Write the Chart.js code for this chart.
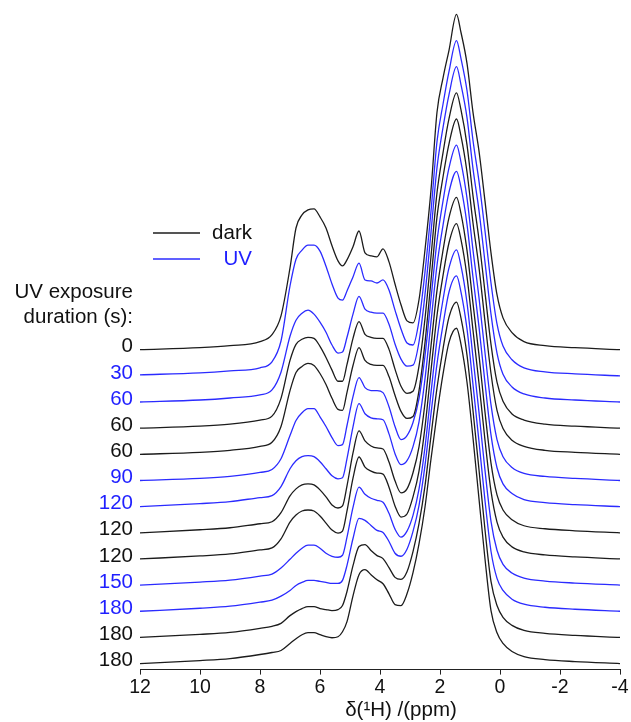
<!DOCTYPE html>
<html>
<head>
<meta charset="utf-8">
<title>1H MAS NMR - UV exposure series</title>
<script src="https://cdn.jsdelivr.net/npm/chart.js@4.4.1/dist/chart.umd.min.js"></script>
<style>
  html, body { margin: 0; padding: 0; background: #fff; }
  #wrap { width: 631px; height: 722px; }
</style>
</head>
<body>
<div id="wrap"><canvas id="nmrChart" width="631" height="722"></canvas></div>
<script>
// chemical shift grid (ppm) shared by all spectra
const ppm = [12, 10, 9, 8, 7.6, 7.3, 7.0, 6.8, 6.6, 6.4, 6.2, 6.0, 5.8, 5.6, 5.4, 5.25, 5.1, 4.9, 4.7, 4.5,
  4.3, 4.1, 3.9, 3.7, 3.5, 3.3, 3.1, 2.9, 2.7, 2.5, 2.3, 2.1, 1.9, 1.7, 1.45, 1.3, 1.1, 0.9, 0.7, 0.5,
  0.3, 0.1, -0.1, -0.4, -0.8, -1.5, -2.5, -4];

// exposure labels, top to bottom, and whether the sample was kept dark or under UV
const durations = ['0', '30', '60', '60', '60', '90', '120', '120', '120', '150', '180', '180', '180'];
const condition = ['dark', 'UV', 'UV', 'dark', 'dark', 'UV', 'UV', 'dark', 'dark', 'UV', 'UV', 'dark', 'dark'];

// intensities, normalised to the main peak (= 100), one array per spectrum
const spec01 = [0, 0.6, 1.2, 2.4, 4.5, 10.1, 24.4, 36.3, 40.2, 41.7, 42.0, 39.6, 36.3, 31.0, 26.5, 25.0, 26.8, 30.7, 35.4, 28.9,
  28.0, 27.7, 30.1, 26.2, 19.6, 13.4, 8.6, 8.0, 14.9, 29.8, 47.6, 70.8, 81.0, 89.3, 100, 94.6, 85.4, 70.8, 59.2, 44.3,
  28.9, 16.4, 9.5, 5.1, 2.4, 1.2, 0.6, 0];
const spec02 = [0.3, 0.9, 1.5, 2.4, 4.2, 10.4, 26.8, 34.8, 37.5, 39.0, 39.0, 37.2, 32.7, 27.4, 23.2, 22.6, 25.3, 29.5, 33.6, 28.6,
  28.3, 27.7, 28.6, 25.6, 19.6, 14.0, 9.8, 9.2, 16.4, 31.0, 49.1, 69.9, 81.0, 90.8, 100, 94.6, 85.1, 70.2, 58.0, 43.2,
  27.7, 15.5, 8.9, 4.8, 2.4, 1.2, 0.6, 0];
const spec03 = [0, 0.6, 1.2, 2.1, 3.6, 8.9, 19.6, 24.4, 26.5, 27.4, 26.2, 23.8, 20.8, 17.0, 14.6, 14.9, 19.3, 26.2, 31.5, 27.7,
  26.8, 26.5, 26.5, 23.2, 17.3, 12.8, 10.7, 11.0, 17.9, 32.1, 50.6, 69.9, 81.8, 91.7, 100, 94.6, 84.8, 69.6, 57.1, 41.7,
  26.2, 14.6, 8.3, 4.5, 2.4, 1.2, 0.6, 0];
const spec04 = [0, 0.6, 1.2, 2.4, 3.6, 8.9, 20.2, 25.0, 26.5, 27.1, 26.8, 24.4, 21.1, 17.3, 14.0, 14.0, 19.0, 26.8, 31.8, 28.0,
  27.1, 26.8, 26.8, 23.5, 17.6, 12.5, 10.4, 11.0, 18.5, 32.7, 51.2, 70.2, 82.1, 92.3, 100, 94.9, 84.5, 69.3, 56.2, 40.5,
  25.0, 13.7, 8.0, 4.2, 2.4, 1.2, 0.6, 0];
const spec05 = [0, 0.6, 1.2, 2.4, 3.6, 8.3, 19.0, 24.4, 26.2, 27.1, 26.5, 24.1, 20.8, 16.7, 13.4, 13.1, 18.5, 26.5, 31.8, 28.0,
  26.8, 26.5, 26.5, 23.2, 17.6, 12.8, 10.7, 11.3, 19.0, 33.3, 51.8, 70.8, 82.7, 92.6, 100, 94.9, 84.2, 69.0, 55.7, 39.6,
  24.1, 13.1, 7.7, 4.2, 2.4, 1.2, 0.6, 0];
const spec06 = [0, 0.6, 1.2, 2.4, 3.3, 6.5, 13.4, 17.9, 20.2, 21.4, 21.4, 19.0, 16.1, 12.8, 10.4, 10.7, 16.4, 25.0, 30.7, 27.7,
  26.8, 26.8, 26.2, 22.0, 16.1, 12.2, 13.4, 17.3, 24.4, 37.2, 54.2, 71.4, 83.3, 93.2, 100, 94.9, 84.2, 68.7, 54.5, 38.1,
  22.6, 12.2, 7.1, 3.9, 2.1, 1.2, 0.6, 0];
const spec07 = [0, 0.9, 1.5, 2.7, 3.3, 6.0, 11.3, 13.7, 14.9, 15.2, 14.9, 13.4, 11.3, 9.2, 8.3, 8.6, 14.3, 23.8, 30.7, 27.7,
  26.5, 26.2, 25.9, 21.7, 15.8, 12.5, 13.7, 17.9, 25.3, 38.1, 55.1, 72.0, 83.9, 93.8, 100, 95.2, 84.2, 68.4, 53.6, 36.9,
  21.4, 11.6, 6.8, 3.9, 2.1, 1.2, 0.6, 0];
const spec08 = [0, 0.9, 1.5, 2.7, 3.3, 6.0, 11.0, 13.1, 14.3, 14.6, 14.3, 12.8, 10.7, 8.3, 7.4, 8.0, 14.0, 23.8, 30.4, 27.4,
  25.9, 25.3, 25.0, 21.1, 15.5, 11.9, 13.1, 17.9, 25.6, 38.7, 55.7, 72.3, 84.2, 94.0, 100, 95.2, 84.2, 68.4, 53.0, 36.0,
  20.8, 11.3, 6.8, 3.9, 2.1, 1.2, 0.6, 0];
const spec09 = [0, 0.9, 1.5, 2.7, 3.3, 6.0, 11.0, 13.1, 14.3, 14.6, 14.3, 12.8, 10.7, 8.6, 7.7, 8.3, 14.3, 24.1, 30.4, 27.4,
  26.2, 25.6, 25.3, 21.4, 15.8, 12.5, 13.4, 18.5, 26.2, 39.3, 56.2, 72.6, 84.5, 94.3, 100, 95.2, 84.2, 68.2, 52.4, 35.4,
  20.2, 11.0, 6.5, 3.6, 2.1, 1.2, 0.6, 0];
const spec10 = [0, 0.9, 1.5, 2.7, 3.3, 5.1, 7.7, 9.5, 11.0, 11.9, 11.9, 11.0, 9.5, 8.6, 8.3, 8.9, 14.3, 23.2, 29.2, 27.1,
  25.9, 25.3, 24.7, 21.4, 16.7, 14.3, 16.1, 20.8, 28.6, 41.1, 57.4, 73.2, 85.1, 94.6, 100, 95.2, 84.2, 67.9, 51.5, 34.2,
  19.0, 10.4, 6.2, 3.6, 2.1, 1.2, 0.6, 0];
const spec11 = [0, 0.9, 1.5, 2.7, 3.3, 4.5, 6.2, 7.7, 8.6, 9.2, 9.2, 8.9, 8.6, 8.3, 8.3, 9.2, 13.7, 21.7, 27.7, 27.1,
  25.6, 24.1, 23.5, 20.8, 17.3, 16.4, 18.5, 23.8, 31.5, 43.5, 58.9, 73.8, 85.4, 95.2, 100, 95.2, 84.2, 67.6, 50.6, 33.0,
  17.9, 9.8, 6.2, 3.6, 2.1, 1.2, 0.6, 0];
const spec12 = [0, 0.9, 1.5, 2.7, 3.3, 4.2, 6.5, 7.7, 8.6, 9.2, 9.2, 8.6, 8.3, 8.0, 8.3, 9.5, 13.7, 21.4, 27.1, 27.7,
  25.9, 24.4, 23.5, 20.8, 17.9, 17.3, 19.6, 25.6, 33.9, 45.2, 60.1, 74.4, 86.0, 95.5, 100, 95.2, 84.2, 67.6, 50.0, 32.1,
  16.7, 9.5, 6.0, 3.6, 2.1, 1.2, 0.6, 0];
const spec13 = [0, 0.9, 1.5, 2.7, 3.3, 3.9, 6.0, 7.4, 8.6, 9.2, 9.2, 8.6, 8.0, 7.7, 8.0, 9.5, 12.5, 20.2, 26.5, 28.0,
  26.5, 25.0, 23.8, 20.8, 17.6, 17.3, 20.8, 27.1, 35.7, 46.7, 61.0, 74.4, 86.3, 95.8, 100, 95.2, 83.9, 67.3, 49.1, 31.2,
  15.8, 9.2, 6.0, 3.6, 2.1, 1.2, 0.6, 0];

const spectra = [spec01, spec02, spec03, spec04, spec05, spec06, spec07, spec08, spec09, spec10, spec11, spec12, spec13];

const xTicks = [12, 10, 8, 6, 4, 2, 0, -2, -4];

// stacking: each spectrum is lifted by this much above the one below it
const stackStep = 7.8;
const colors = { dark: '#1c1c1c', UV: '#2b2bff' };
const labelColors = { dark: '#111111', UV: '#1f1fff' };
const FONT = "'Liberation Sans', Arial, sans-serif";

const nSpec = spectra.length;
const offsetOf = i => (nSpec - 1 - i) * stackStep;

const datasets = spectra.map((vals, i) => ({
  label: durations[i] + ' s (' + condition[i] + ')',
  data: ppm.map((x, k) => ({ x: x, y: vals[k] + offsetOf(i) })),
  borderColor: colors[condition[i]],
  borderWidth: 1.3,
  pointRadius: 0,
  fill: false,
  cubicInterpolationMode: 'monotone'
}));

// legend + exposure labels drawn next to each trace
const sideLabels = {
  id: 'sideLabels',
  afterDraw(chart) {
    const c = chart.ctx;
    const y = chart.scales.y;
    c.save();
    c.textBaseline = 'middle';

    // legend
    c.lineWidth = 1.3;
    [['dark', 233], ['UV', 259]].forEach(([name, yy]) => {
      c.strokeStyle = colors[name];
      c.beginPath();
      c.moveTo(153, yy);
      c.lineTo(200, yy);
      c.stroke();
      c.fillStyle = labelColors[name];
      c.font = '20.5px ' + FONT;
      c.textAlign = 'right';
      c.fillText(name, 252, yy);
    });

    c.fillStyle = '#111';
    c.font = '20.5px ' + FONT;
    c.textAlign = 'right';
    c.fillText('UV exposure', 133, 292);
    c.fillText('duration (s):', 133, 317);

    durations.forEach((d, i) => {
      c.fillStyle = labelColors[condition[i]];
      c.fillText(d, 133, y.getPixelForValue(offsetOf(i)) - 3);
    });

    // x-axis title
    c.fillStyle = '#111';
    c.textAlign = 'center';
    c.fillText('\u03B4(\u00B9H) /(ppm)', 401, 710);
    c.restore();
  }
};

const config = {
  type: 'line',
  data: { datasets: datasets },
  options: {
    responsive: false,
    animation: false,
    layout: { padding: { left: 140, right: 11, top: 5, bottom: 22 } },
    plugins: {
      legend: { display: false },
      tooltip: { enabled: false }
    },
    scales: {
      x: {
        type: 'linear',
        reverse: true,
        min: -4,
        max: 12,
        afterBuildTicks: axis => { axis.ticks = xTicks.map(v => ({ value: v })); },
        ticks: {
          color: '#111',
          padding: 1,
          font: { family: FONT, size: 19.5 },
          callback: v => String(v)
        },
        grid: { display: true, drawOnChartArea: false, drawTicks: true, tickLength: 5, color: '#222' },
        border: { display: true, color: '#222', width: 1 }
      },
      y: {
        display: false,
        min: -1.8,
        max: 196.4
      }
    }
  },
  plugins: [sideLabels]
};

window.addEventListener('load', () => {
  const el = document.getElementById('nmrChart');
  if (!el) {
    console.error('Chart element not found!');
    return;
  }
  new Chart(el.getContext('2d'), config);
});
</script>
</body>
</html>
